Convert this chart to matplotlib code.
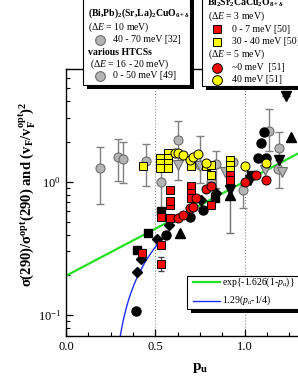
import matplotlib
matplotlib.use("Agg")
import matplotlib.pyplot as plt
from matplotlib.patches import Rectangle
from matplotlib.lines import Line2D
from matplotlib.ticker import MultipleLocator, NullFormatter
import numpy as np

plt.rcParams['font.family'] = ['Liberation Serif', 'DejaVu Serif']
plt.rcParams['mathtext.fontset'] = 'custom'
plt.rcParams['mathtext.rm'] = 'Liberation Serif'
plt.rcParams['mathtext.it'] = 'Liberation Serif:italic'
plt.rcParams['mathtext.bf'] = 'Liberation Serif:bold'

# various HTCSs [49] and (Bi,Pb)2201 [32]  (gray circles, with error bars)
gc_x = [0.19, 0.29, 0.32, 0.445, 0.53, 0.627, 0.75, 0.84, 0.81, 0.935, 0.99, 1.134, 1.19, 1.186]
gc_y = [1.26, 1.54, 1.48, 1.43, 0.99, 2.06, 1.33, 1.35, 1.00, 1.41, 0.86, 2.40, 1.80, 1.24]
gc_lo = [0.68, 1.01, 0.98, 0.93, 0.60, 1.03, 0.98, 0.90, 1.00, 1.41, 0.63, 1.70, 0.90, 1.24]
gc_hi = [1.83, 2.08, 1.97, 1.90, 1.59, 2.87, 2.20, 1.71, 1.00, 1.41, 0.95, 3.50, 2.36, 1.24]

# Bi2212, dE = 3 meV [50]
ys_x = [0.43, 0.525, 0.525, 0.525, 0.57, 0.57, 0.57, 0.57, 0.70, 0.786, 0.81, 0.814, 0.92, 0.92, 0.92]
ys_y = [1.32, 1.50, 1.38, 1.27, 1.64, 1.50, 1.38, 1.27, 1.30, 1.32, 1.34, 1.12, 1.46, 1.34, 1.22]
rs_x = [0.428, 0.529, 0.529, 0.529, 0.58, 0.58, 0.58, 0.58, 0.70, 0.70, 0.70, 0.81, 0.92, 0.92]
rs_y = [0.29, 0.334, 0.24, 0.545, 0.53, 0.668, 0.72, 0.866, 0.93, 0.82, 0.75, 0.67, 1.12, 1.03]
rs_lo = [0.27, 0.32, 0.215, 0.52, 0.51, 0.64, 0.69, 0.83, 0.89, 0.79, 0.72, 0.64, 1.08, 0.99]
rs_hi = [0.31, 0.35, 0.27, 0.57, 0.55, 0.70, 0.75, 0.90, 0.97, 0.85, 0.78, 0.70, 1.16, 1.07]

# Bi2212, dE = 5 meV [51]
rc_x = [0.627, 0.655, 0.693, 0.711, 0.73, 0.786, 0.814, 1.0, 1.066, 1.12]
rc_y = [0.53, 0.56, 0.63, 0.64, 0.76, 0.88, 0.92, 1.00, 1.12, 1.03]
yc_x = [0.61, 0.627, 0.655, 0.693, 0.711, 0.739, 0.786, 1.0, 1.12]
yc_y = [1.64, 1.64, 1.59, 1.46, 1.54, 1.60, 1.37, 1.30, 1.37]

# other compounds (black symbols, gray down triangles)
bc_x = [0.391, 0.559, 0.693, 0.767, 1.074, 1.093, 1.11, 1.12]
bc_y = [0.107, 0.397, 0.545, 0.613, 1.50, 1.96, 2.37, 1.50]
bs_x = [0.40, 0.46, 0.529, 0.832, 1.036]
bs_y = [0.306, 0.414, 0.605, 0.75, 1.12]
bd_x = [0.40, 0.419, 0.507, 0.577, 0.758, 0.84]
bd_y = [0.209, 0.265, 0.37, 0.472, 0.73, 0.82]
bu_x = [0.637, 1.26, 0.916]
bu_y = [0.41, 2.16, 0.80]
bv_x = [0.916, 1.028, 1.19, 1.23]
bv_y = [0.866, 1.03, 1.45, 4.4]
bv_lo = [0.41, 1.03, 1.45, 4.4]
bv_hi = [0.94, 1.03, 1.45, 4.4]
gt_x = [0.627, 0.75, 0.888, 1.112, 1.21]
gt_y = [1.33, 1.30, 1.18, 1.22, 1.19]

W, H = 298, 385
fig = plt.figure(figsize=(W / 100, H / 100), dpi=100)
ax = fig.add_axes([66 / W, 1 - 336 / H, 268 / W, 267 / H])

GRAY = '#b4b4b4'
GEDGE = '#6e6e6e'

ax.axvline(0.5, color='#909090', ls=':', lw=0.8, zorder=1)
ax.axvline(1.0, color='#909090', ls=':', lw=0.8, zorder=1)

p = np.linspace(0, 1.5, 200)
ax.plot(p, np.exp(-1.626 * (1 - p)), color='#22e022', lw=1.6, zorder=2)
pb = np.linspace(0.3, 0.56, 100)
ax.plot(pb, 1.29 * (pb - 0.25), color='#1a2cff', lw=1.0, zorder=2)

def err(y, lo, hi):
    y = np.array(y); return [y - np.array(lo), np.array(hi) - y]

ax.errorbar(gc_x, gc_y, yerr=err(gc_y, gc_lo, gc_hi), fmt='none', ecolor='#808080', elinewidth=1, capsize=3, zorder=3)
ax.errorbar(rs_x, rs_y, yerr=err(rs_y, rs_lo, rs_hi), fmt='none', ecolor='#404040', elinewidth=0.8, capsize=2.5, zorder=3)
ax.errorbar(bv_x, bv_y, yerr=err(bv_y, bv_lo, bv_hi), fmt='none', ecolor='#707070', elinewidth=1, capsize=3, zorder=3)

ms = 6.5
ax.plot(gc_x, gc_y, 'o', ms=ms, mfc=GRAY, mec=GEDGE, mew=0.8, zorder=4)
ax.plot(gt_x, gt_y, 'v', ms=ms, mfc=GRAY, mec=GEDGE, mew=0.8, zorder=4)
ax.plot(bc_x, bc_y, 'o', ms=ms, color='black', zorder=4)
ax.plot(bs_x, bs_y, 's', ms=6, color='black', zorder=4)
ax.plot(bd_x, bd_y, 'D', ms=5.5, color='black', zorder=4)
ax.plot(bu_x, bu_y, '^', ms=ms + 1, color='black', zorder=4)
ax.plot(bv_x, bv_y, 'v', ms=ms + 1, color='black', zorder=4)
ax.plot(ys_x, ys_y, 's', ms=6, mfc='#ffff00', mec='black', mew=0.7, zorder=5)
ax.plot(rs_x, rs_y, 's', ms=6, mfc='#ff0000', mec='black', mew=0.7, zorder=5)
ax.plot(yc_x, yc_y, 'o', ms=ms, mfc='#ffff00', mec='black', mew=0.7, zorder=5)
ax.plot(rc_x, rc_y, 'o', ms=ms, mfc='#ff0000', mec='black', mew=0.7, zorder=5)

ax.set_yscale('log')
ax.set_ylim(0.0695, 7.0)
ax.set_xlim(0, 1.5)
ax.set_xticks([0, 0.5, 1.0])
ax.xaxis.set_minor_locator(MultipleLocator(0.125))
ax.yaxis.set_minor_formatter(NullFormatter())
ax.tick_params(which='both', direction='in', top=False, right=False, labelsize=9)
ax.tick_params(which='major', length=5, width=0.9)
ax.tick_params(which='minor', length=3, width=0.8)
ax.spines['right'].set_visible(False)
for s in ['left', 'bottom', 'top']:
    ax.spines[s].set_linewidth(1.0)

ax.set_xlabel(r'p$_{\mathbf{u}}$', fontsize=11, fontweight='bold', labelpad=6)
ax.set_ylabel(r'σ(290)/σ$^{\mathbf{opt}}$(290) and (v$_{\mathbf{F}}$/v$_{\mathbf{F}}^{\mathbf{opt}}$)$^{\mathbf{2}}$',
              fontsize=10.5, fontweight='bold')
ax.yaxis.set_label_coords(-0.11, 0.53)

# legend boxes drawn in pixel positions of the figure
def fx(x): return x / W
def fy(y): return 1 - y / H

def box(x0, y0, x1, y1):
    fig.add_artist(Rectangle((fx(x0 + 4), fy(y1 + 4)), (x1 - x0) / W, (y1 - y0) / H,
                             transform=fig.transFigure, fc='black', ec='none', zorder=5))
    fig.add_artist(Rectangle((fx(x0), fy(y1)), (x1 - x0) / W, (y1 - y0) / H,
                             transform=fig.transFigure, fc='white', ec='black', lw=0.8, zorder=6))

def txt(x, y, s, **kw):
    fig.text(fx(x), fy(y), s, fontsize=7, va='center', ha='left', zorder=7, **kw)

def key(x, y, **kw):
    fig.add_artist(Line2D([fx(x)], [fy(y)], transform=fig.transFigure, ls='none', zorder=7, **kw))

box(83, -10, 190, 85)
txt(88, 13, r'(Bi,Pb)$_{\mathbf{2}}$(Sr,La)$_{\mathbf{2}}$CuO$_{\mathbf{6+δ}}$', fontweight='bold')
txt(88, 27, r'($\mathit{ΔE}$ = 10 meV)')
key(100, 39.5, marker='o', ms=7, mfc=GRAY, mec=GEDGE, mew=0.8)
txt(113, 39.5, '40 - 70 meV [32]')
txt(88, 52.5, 'various HTCSs', fontweight='bold')
txt(90, 64, r'($\mathit{ΔE}$ = 16 - 20 meV)')
key(100, 76, marker='o', ms=7, mfc=GRAY, mec=GEDGE, mew=0.8)
txt(113, 76, '0 - 50 meV [49]')

box(202, -10, 330, 86)
txt(207, 3, r'Bi$_{\mathbf{2}}$Sr$_{\mathbf{2}}$CaCu$_{\mathbf{2}}$O$_{\mathbf{8+δ}}$', fontweight='bold')
txt(208, 16.7, r'($\mathit{ΔE}$ = 3 meV)')
key(216.7, 29.3, marker='s', ms=6, mfc='#ff0000', mec='black', mew=0.7)
txt(231.7, 29.3, '0 - 7 meV [50]')
key(216.7, 42, marker='s', ms=6, mfc='#ffff00', mec='black', mew=0.7)
txt(231.7, 42, '30 - 40 meV [50]')
txt(208, 54.3, r'($\mathit{ΔE}$ = 5 meV)')
key(216.7, 67.7, marker='o', ms=7, mfc='#ff0000', mec='black', mew=0.7)
txt(231.7, 67.7, '~0 meV  [51]')
key(216.7, 80, marker='o', ms=7, mfc='#ffff00', mec='black', mew=0.7)
txt(231.7, 80, '40 meV [51]')

box(187, 276, 330, 309)
fig.add_artist(Line2D([fx(193), fx(220)], [fy(282), fy(282)], transform=fig.transFigure,
                      color='#22e022', lw=1.6, zorder=7))
txt(222, 282, r'exp{-1.626(1-$\mathit{p}_{\mathit{u}}$)}')
fig.add_artist(Line2D([fx(193), fx(220)], [fy(300.5), fy(300.5)], transform=fig.transFigure,
                      color='#1a2cff', lw=1.0, zorder=7))
txt(222, 300.5, r'1.29($\mathit{p}_{\mathit{u}}$-1/4)')

fig.savefig('out.png', dpi=100)
